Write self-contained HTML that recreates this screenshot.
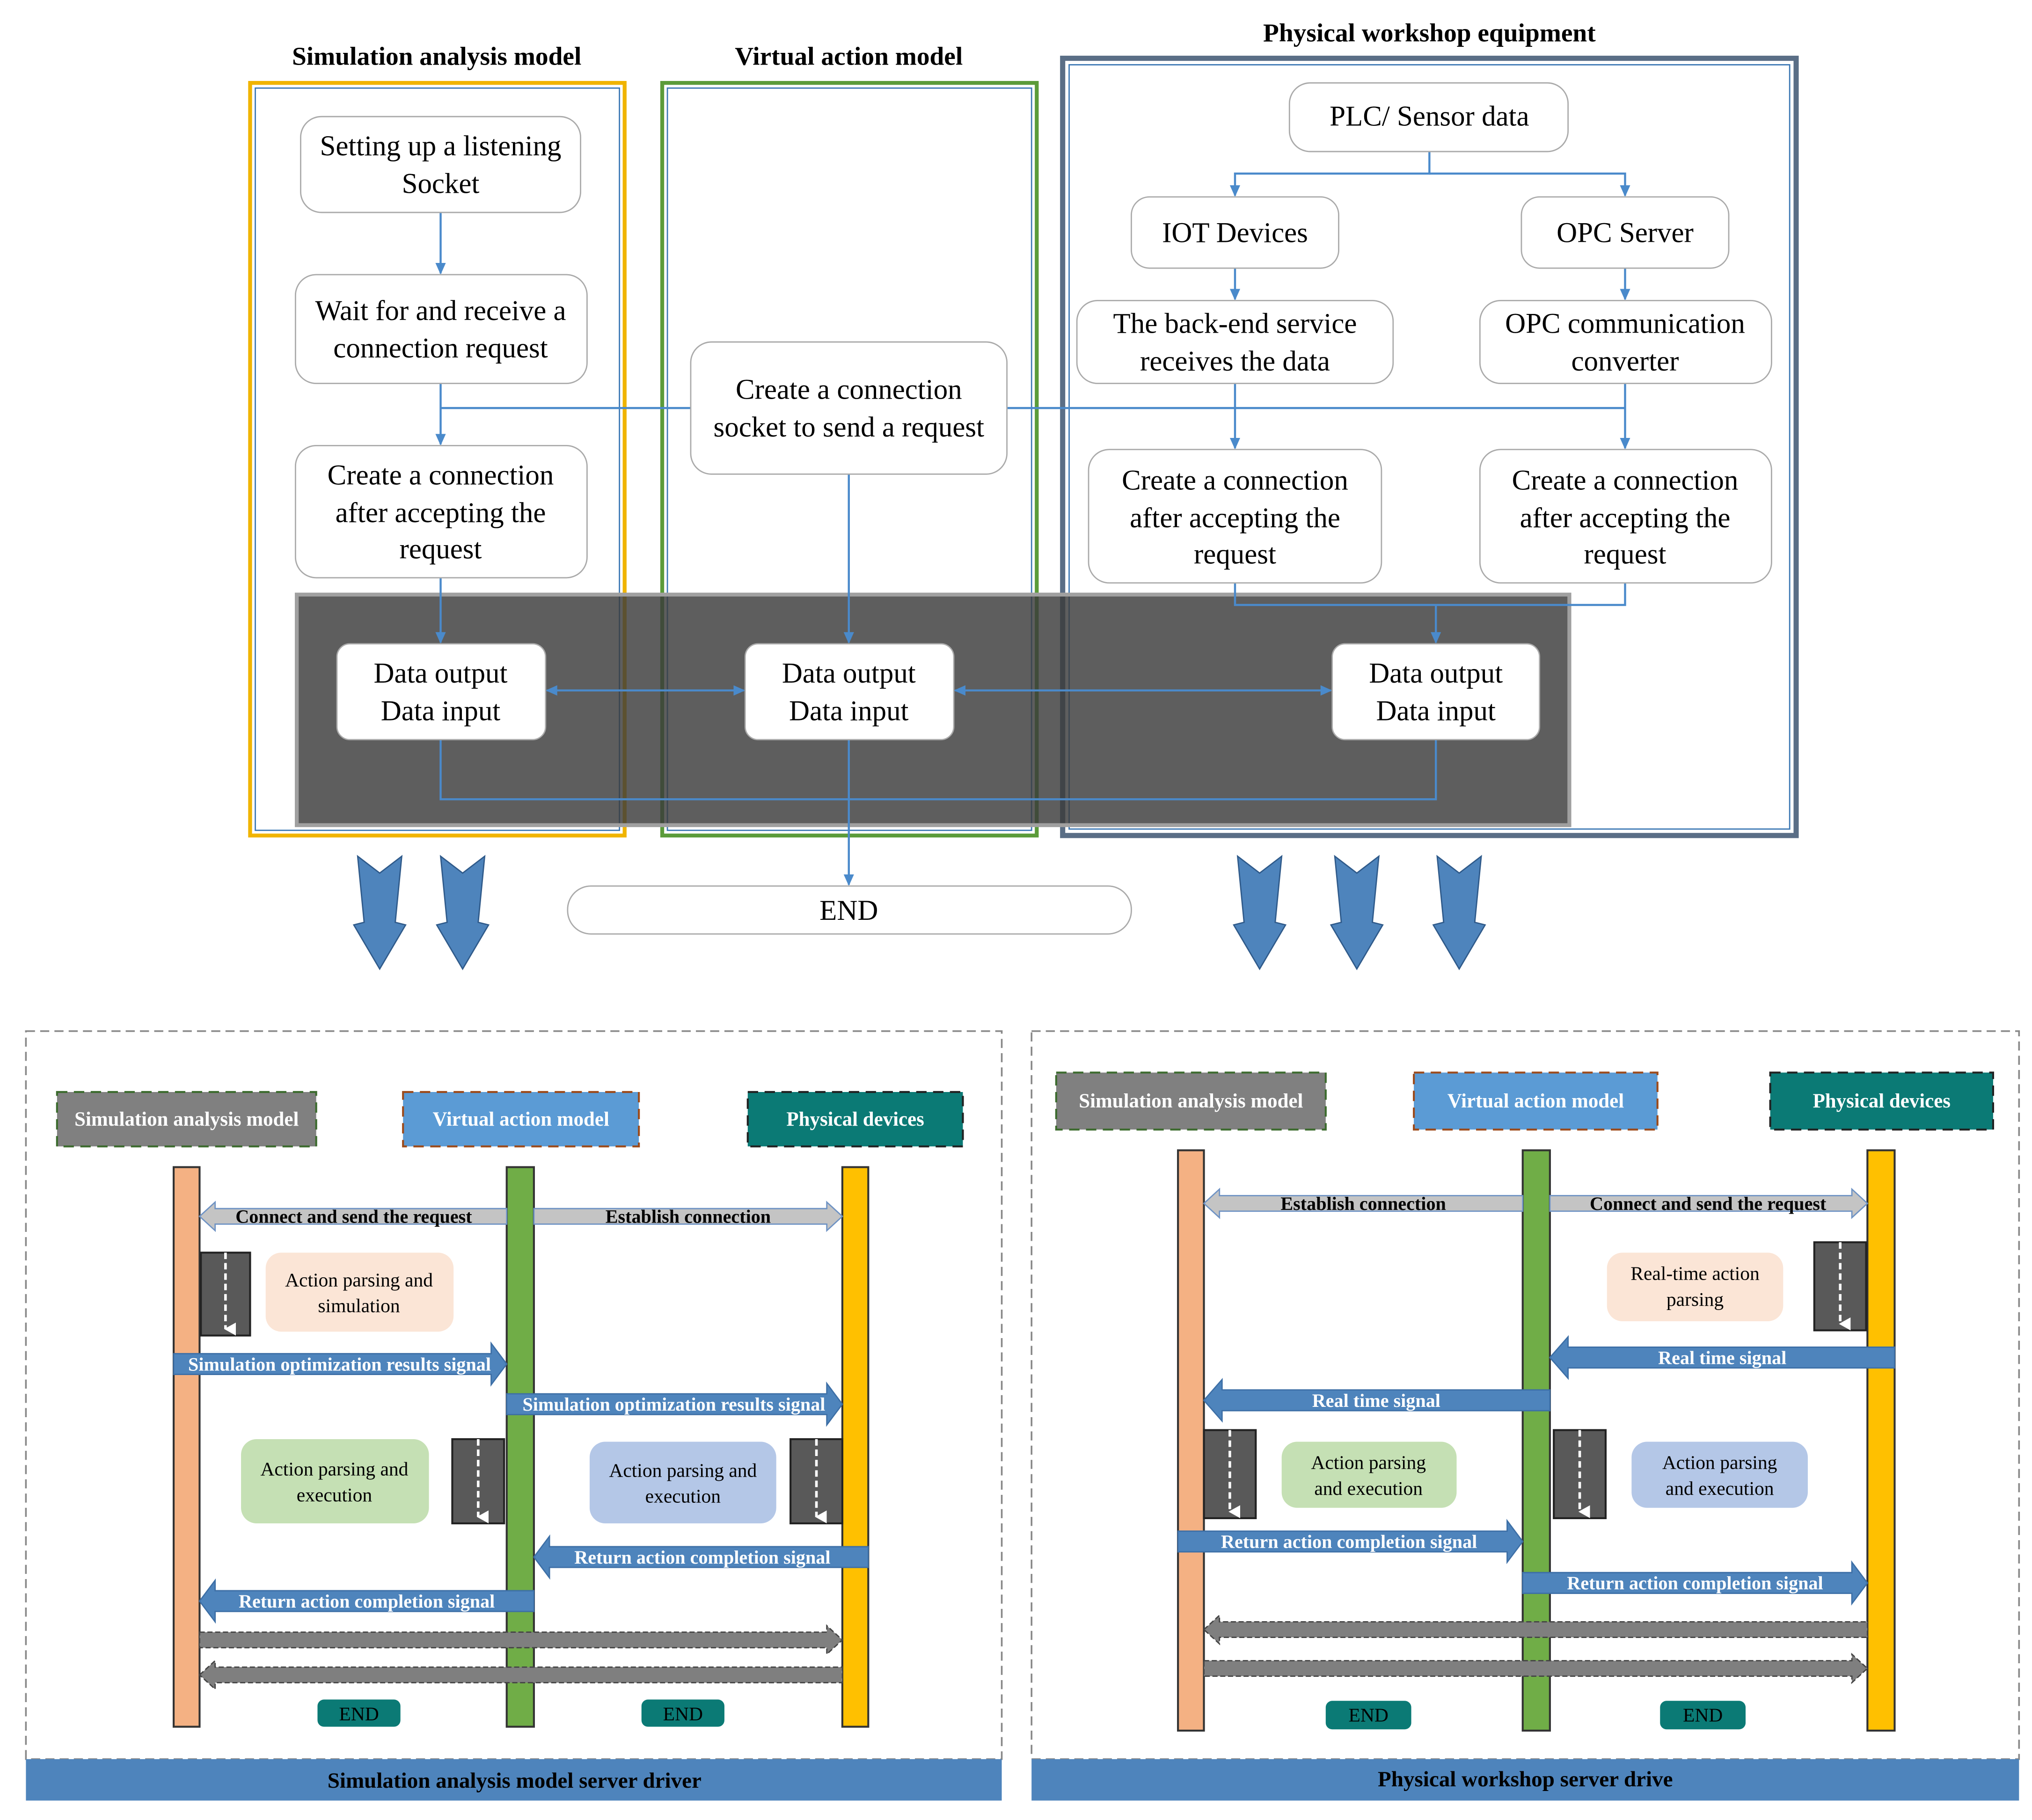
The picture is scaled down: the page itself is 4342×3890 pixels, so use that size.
<!DOCTYPE html>
<html><head><meta charset="utf-8"><style>
html,body{margin:0;padding:0;background:#fff}
svg{display:block}
text{font-family:"Liberation Serif","Times New Roman",serif}
.n{font-size:22px;fill:#000;text-anchor:middle}
.t{font-size:20px;font-weight:bold;text-anchor:middle}
.s{font-size:14.5px;font-weight:bold;fill:#fff;text-anchor:middle}
.g{font-size:14.5px;font-weight:bold;fill:#000;text-anchor:middle}
.h{font-size:15.5px;font-weight:bold;fill:#fff;text-anchor:middle}
.b{font-size:15px;fill:#000;text-anchor:middle}
.node{fill:#fff;stroke:#aaa;stroke-width:1}
.ln{stroke:#4A8ACB;stroke-width:1.6;fill:none}
.blue{fill:#4E84BC;stroke:#3D6FA6;stroke-width:1}
.gray{fill:#C4C4C4;stroke:#6F93C4;stroke-width:1}
.dg{fill:#7F7F7F;stroke:#444;stroke-width:1;stroke-dasharray:4 2}
.dark{fill:#595959;stroke:#222;stroke-width:1.5}
.da{stroke:#fff;stroke-width:2;stroke-dasharray:5 3}
</style></head><body>
<svg width="4342" height="3890" viewBox="0 0 1568 1405" preserveAspectRatio="none" xmlns="http://www.w3.org/2000/svg" font-family="Liberation Serif, Times New Roman, serif">
<defs>
<marker id="ar" markerWidth="10" markerHeight="10" refX="8" refY="5" orient="auto" markerUnits="userSpaceOnUse"><path d="M0,1 L9,5 L0,9 Z" fill="#4A8ACB"/></marker>
<marker id="as" markerWidth="10" markerHeight="10" refX="1" refY="5" orient="auto" markerUnits="userSpaceOnUse"><path d="M9,1 L0,5 L9,9 Z" fill="#4A8ACB"/></marker>
<marker id="wa" markerWidth="10" markerHeight="10" refX="5" refY="8" orient="auto" markerUnits="userSpaceOnUse"><path d="M0,0 L10,0 L5,9 Z" fill="#fff"/></marker>
</defs>
<text class="t" x="337" y="50">Simulation analysis model</text>
<text class="t" x="655" y="50">Virtual action model</text>
<text class="t" x="1103" y="32">Physical workshop equipment</text>
<rect x="193" y="64" width="289" height="581" fill="none" stroke="#F0B400" stroke-width="3"/>
<rect x="197" y="68" width="281" height="573" fill="none" stroke="#3C78B4" stroke-width="1"/>
<rect x="511" y="64" width="289" height="581" fill="none" stroke="#5B9B3A" stroke-width="3"/>
<rect x="515" y="68" width="281" height="573" fill="none" stroke="#3C78B4" stroke-width="1"/>
<rect x="820" y="45" width="566" height="600" fill="none" stroke="#5A6E86" stroke-width="4"/>
<rect x="825" y="50" width="556" height="590" fill="none" stroke="#3C78B4" stroke-width="1"/>
<rect x="229" y="459" width="982" height="178" fill="#3a3a3a" fill-opacity="0.82" stroke="#A0A0A0" stroke-width="3"/>
<line class="ln" x1="340" y1="164" x2="340" y2="211" marker-end="url(#ar)"/>
<line class="ln" x1="340" y1="296" x2="340" y2="343" marker-end="url(#ar)"/>
<line class="ln" x1="340" y1="315" x2="1254" y2="315"/>
<line class="ln" x1="953" y1="296" x2="953" y2="346" marker-end="url(#ar)"/>
<line class="ln" x1="1254" y1="296" x2="1254" y2="346" marker-end="url(#ar)"/>
<polyline class="ln" points="1103,117 1103,134 953,134 953,151" marker-end="url(#ar)"/>
<polyline class="ln" points="1103,134 1254,134 1254,151" marker-end="url(#ar)"/>
<line class="ln" x1="953" y1="207" x2="953" y2="231" marker-end="url(#ar)"/>
<line class="ln" x1="1254" y1="207" x2="1254" y2="231" marker-end="url(#ar)"/>
<line class="ln" x1="340" y1="446" x2="340" y2="496" marker-end="url(#ar)"/>
<line class="ln" x1="655" y1="366" x2="655" y2="496" marker-end="url(#ar)"/>
<polyline class="ln" points="953,450 953,467 1254,467 1254,450"/>
<line class="ln" x1="1108" y1="467" x2="1108" y2="496" marker-end="url(#ar)"/>
<line class="ln" x1="422" y1="533" x2="574" y2="533" marker-start="url(#as)" marker-end="url(#ar)"/>
<line class="ln" x1="737" y1="533" x2="1027" y2="533" marker-start="url(#as)" marker-end="url(#ar)"/>
<polyline class="ln" points="340,571 340,617 1108,617 1108,571"/>
<line class="ln" x1="655" y1="571" x2="655" y2="683" marker-end="url(#ar)"/>
<rect class="node" x="232" y="90" width="216" height="74" rx="16"/>
<text class="n" x="340" y="120">Setting up a listening</text><text class="n" x="340" y="149">Socket</text>
<rect class="node" x="228" y="212" width="225" height="84" rx="16"/>
<text class="n" x="340" y="247">Wait for and receive a</text><text class="n" x="340" y="276">connection request</text>
<rect class="node" x="228" y="344" width="225" height="102" rx="16"/>
<text class="n" x="340" y="374">Create a connection</text><text class="n" x="340" y="403">after accepting the</text><text class="n" x="340" y="431">request</text>
<rect class="node" x="533" y="264" width="244" height="102" rx="16"/>
<text class="n" x="655" y="308">Create a connection</text><text class="n" x="655" y="337">socket to send a request</text>
<rect class="node" x="995" y="64" width="215" height="53" rx="16"/>
<text class="n" x="1103" y="97">PLC/ Sensor data</text>
<rect class="node" x="873" y="152" width="160" height="55" rx="14"/>
<text class="n" x="953" y="187">IOT Devices</text>
<rect class="node" x="1174" y="152" width="160" height="55" rx="14"/>
<text class="n" x="1254" y="187">OPC Server</text>
<rect class="node" x="831" y="232" width="244" height="64" rx="16"/>
<text class="n" x="953" y="257">The back-end service</text><text class="n" x="953" y="286">receives the data</text>
<rect class="node" x="1142" y="232" width="225" height="64" rx="16"/>
<text class="n" x="1254" y="257">OPC communication</text><text class="n" x="1254" y="286">converter</text>
<rect class="node" x="840" y="347" width="226" height="103" rx="16"/>
<text class="n" x="953" y="378">Create a connection</text><text class="n" x="953" y="407">after accepting the</text><text class="n" x="953" y="435">request</text>
<rect class="node" x="1142" y="347" width="225" height="103" rx="16"/>
<text class="n" x="1254" y="378">Create a connection</text><text class="n" x="1254" y="407">after accepting the</text><text class="n" x="1254" y="435">request</text>
<rect class="node" x="260" y="497" width="161" height="74" rx="10"/>
<text class="n" x="340" y="527">Data output</text><text class="n" x="340" y="556">Data input</text>
<rect class="node" x="575" y="497" width="161" height="74" rx="10"/>
<text class="n" x="655" y="527">Data output</text><text class="n" x="655" y="556">Data input</text>
<rect class="node" x="1028" y="497" width="160" height="74" rx="10"/>
<text class="n" x="1108" y="527">Data output</text><text class="n" x="1108" y="556">Data input</text>
<rect class="node" x="438" y="684" width="435" height="37" rx="18"/>
<text class="n" x="655" y="710">END</text>
<g fill="#4E84BC" stroke="#2F5A8A" stroke-width="1">
<path d="M276,661 L293,674 L310,661 L305,712 L313,714 L293,748 L273,714 L281,712 Z"/>
<path d="M340,661 L357,674 L374,661 L369,712 L377,714 L357,748 L337,714 L345,712 Z"/>
<path d="M955,661 L972,674 L989,661 L984,712 L992,714 L972,748 L952,714 L960,712 Z"/>
<path d="M1030,661 L1047,674 L1064,661 L1059,712 L1067,714 L1047,748 L1027,714 L1035,712 Z"/>
<path d="M1109,661 L1126,674 L1143,661 L1138,712 L1146,714 L1126,748 L1106,714 L1114,712 Z"/>
</g>
<rect x="20" y="796" width="753" height="562" fill="none" stroke="#888" stroke-width="1.3" stroke-dasharray="7 4"/>
<rect x="20" y="1358" width="753" height="32" fill="#4E84BC"/>
<text x="397" y="1380" style="font-size:17px;font-weight:bold;text-anchor:middle">Simulation analysis model server driver</text>
<rect x="44" y="843" width="200" height="42" fill="#808080" stroke="#3C6B2E" stroke-width="1.5" stroke-dasharray="8 5"/>
<text class="h" x="144" y="869">Simulation analysis model</text>
<rect x="311" y="843" width="182" height="42" fill="#5B9BD5" stroke="#9C4A1A" stroke-width="1.5" stroke-dasharray="8 5"/>
<text class="h" x="402" y="869">Virtual action model</text>
<rect x="577" y="843" width="166" height="42" fill="#0B7A75" stroke="#222" stroke-width="1.5" stroke-dasharray="8 5"/>
<text class="h" x="660" y="869">Physical devices</text>
<rect x="134" y="901" width="20" height="432" fill="#F4B183" stroke="#333" stroke-width="1.5"/>
<rect x="391" y="901" width="21" height="432" fill="#70AD47" stroke="#333" stroke-width="1.5"/>
<rect x="650" y="901" width="20" height="432" fill="#FFC000" stroke="#333" stroke-width="1.5"/>
<path class="gray" d="M154,939 L166,928 L166,933 L391,933 L391,945 L166,945 L166,950 Z"/>
<text class="g" x="273" y="944">Connect and send the request</text>
<path class="gray" d="M650,939 L638,928 L638,933 L412,933 L412,945 L638,945 L638,950 Z"/>
<text class="g" x="531" y="944">Establish connection</text>
<rect class="dark" x="155" y="967" width="38" height="64"/>
<line class="da" x1="174" y1="967" x2="174" y2="1026" marker-end="url(#wa)"/>
<rect x="205" y="967" width="145" height="61" rx="12" fill="#FBE5D6"/>
<text class="b" x="277" y="993">Action parsing and</text><text class="b" x="277" y="1013">simulation</text>
<path class="blue" d="M134,1045 L379,1045 L379,1037 L391,1053 L379,1069 L379,1061 L134,1061 Z"/>
<text class="s" x="262" y="1058">Simulation optimization results signal</text>
<path class="blue" d="M391,1076 L638,1076 L638,1068 L650,1084 L638,1100 L638,1092 L391,1092 Z"/>
<text class="s" x="520" y="1089">Simulation optimization results signal</text>
<rect x="186" y="1111" width="145" height="65" rx="12" fill="#C5E0B4"/>
<text class="b" x="258" y="1139">Action parsing and</text><text class="b" x="258" y="1159">execution</text>
<rect class="dark" x="349" y="1111" width="40" height="65"/>
<line class="da" x1="369" y1="1111" x2="369" y2="1171" marker-end="url(#wa)"/>
<rect x="455" y="1113" width="144" height="63" rx="12" fill="#B4C7E7"/>
<text class="b" x="527" y="1140">Action parsing and</text><text class="b" x="527" y="1160">execution</text>
<rect class="dark" x="610" y="1111" width="40" height="65"/>
<line class="da" x1="630" y1="1111" x2="630" y2="1171" marker-end="url(#wa)"/>
<path class="blue" d="M412,1202 L424,1186 L424,1194 L670,1194 L670,1210 L424,1210 L424,1218 Z"/>
<text class="s" x="542" y="1207">Return action completion signal</text>
<path class="blue" d="M154,1236 L166,1220 L166,1228 L412,1228 L412,1244 L166,1244 L166,1252 Z"/>
<text class="s" x="283" y="1241">Return action completion signal</text>
<path class="dg" d="M154,1260 L638,1260 L638,1255 L650,1266 L638,1277 L638,1272 L154,1272 Z"/>
<path class="dg" d="M154,1293 L166,1282 L166,1287 L650,1287 L650,1299 L166,1299 L166,1304 Z"/>
<rect x="245" y="1312" width="64" height="21" rx="5" fill="#0B7A75"/><text class="b" x="277" y="1328">END</text>
<rect x="495" y="1312" width="64" height="21" rx="5" fill="#0B7A75"/><text class="b" x="527" y="1328">END</text>
<rect x="796" y="796" width="762" height="562" fill="none" stroke="#888" stroke-width="1.3" stroke-dasharray="7 4"/>
<rect x="796" y="1358" width="762" height="32" fill="#4E84BC"/>
<text x="1177" y="1379" style="font-size:17px;font-weight:bold;text-anchor:middle">Physical workshop server drive</text>
<rect x="815" y="828" width="208" height="44" fill="#808080" stroke="#3C6B2E" stroke-width="1.5" stroke-dasharray="8 5"/>
<text class="h" x="919" y="855">Simulation analysis model</text>
<rect x="1091" y="828" width="188" height="44" fill="#5B9BD5" stroke="#9C4A1A" stroke-width="1.5" stroke-dasharray="8 5"/>
<text class="h" x="1185" y="855">Virtual action model</text>
<rect x="1366" y="828" width="172" height="44" fill="#0B7A75" stroke="#222" stroke-width="1.5" stroke-dasharray="8 5"/>
<text class="h" x="1452" y="855">Physical devices</text>
<rect x="909" y="888" width="20" height="448" fill="#F4B183" stroke="#333" stroke-width="1.5"/>
<rect x="1175" y="888" width="21" height="448" fill="#70AD47" stroke="#333" stroke-width="1.5"/>
<rect x="1441" y="888" width="21" height="448" fill="#FFC000" stroke="#333" stroke-width="1.5"/>
<path class="gray" d="M929,929 L941,918 L941,923 L1175,923 L1175,935 L941,935 L941,940 Z"/>
<text class="g" x="1052" y="934">Establish connection</text>
<path class="gray" d="M1441,929 L1429,918 L1429,923 L1196,923 L1196,935 L1429,935 L1429,940 Z"/>
<text class="g" x="1318" y="934">Connect and send the request</text>
<rect x="1240" y="967" width="136" height="53" rx="12" fill="#FBE5D6"/>
<text class="b" x="1308" y="988">Real-time action</text><text class="b" x="1308" y="1008">parsing</text>
<rect class="dark" x="1400" y="959" width="40" height="68"/>
<line class="da" x1="1420" y1="959" x2="1420" y2="1022" marker-end="url(#wa)"/>
<path class="blue" d="M1196,1048 L1210,1032 L1210,1040 L1462,1040 L1462,1056 L1210,1056 L1210,1064 Z"/>
<text class="s" x="1329" y="1053">Real time signal</text>
<path class="blue" d="M929,1081 L943,1065 L943,1073 L1196,1073 L1196,1089 L943,1089 L943,1097 Z"/>
<text class="s" x="1062" y="1086">Real time signal</text>
<rect class="dark" x="929" y="1104" width="40" height="68"/>
<line class="da" x1="949" y1="1104" x2="949" y2="1167" marker-end="url(#wa)"/>
<rect x="989" y="1113" width="135" height="51" rx="12" fill="#C5E0B4"/>
<text class="b" x="1056" y="1134">Action parsing</text><text class="b" x="1056" y="1154">and execution</text>
<rect class="dark" x="1199" y="1104" width="40" height="68"/>
<line class="da" x1="1219" y1="1104" x2="1219" y2="1167" marker-end="url(#wa)"/>
<rect x="1259" y="1113" width="136" height="51" rx="12" fill="#B4C7E7"/>
<text class="b" x="1327" y="1134">Action parsing</text><text class="b" x="1327" y="1154">and execution</text>
<path class="blue" d="M909,1182 L1163,1182 L1163,1174 L1175,1190 L1163,1206 L1163,1198 L909,1198 Z"/>
<text class="s" x="1041" y="1195">Return action completion signal</text>
<path class="blue" d="M1175,1214 L1429,1214 L1429,1206 L1441,1222 L1429,1238 L1429,1230 L1175,1230 Z"/>
<text class="s" x="1308" y="1227">Return action completion signal</text>
<path class="dg" d="M929,1258 L941,1247 L941,1252 L1441,1252 L1441,1264 L941,1264 L941,1269 Z"/>
<path class="dg" d="M929,1282 L1429,1282 L1429,1277 L1441,1288 L1429,1299 L1429,1294 L929,1294 Z"/>
<rect x="1023" y="1313" width="66" height="22" rx="5" fill="#0B7A75"/><text class="b" x="1056" y="1329">END</text>
<rect x="1281" y="1313" width="66" height="22" rx="5" fill="#0B7A75"/><text class="b" x="1314" y="1329">END</text>
</svg>
</body></html>
